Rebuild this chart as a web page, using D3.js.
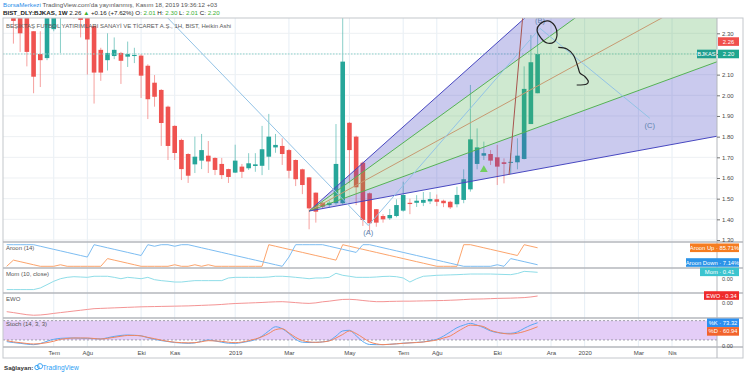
<!DOCTYPE html>
<html>
<head>
<meta charset="utf-8">
<script src="https://cdn.jsdelivr.net/npm/d3@7"></script>
<style>
  html, body { margin: 0; padding: 0; background: #fff; }
  svg { display: block; font-family: "Liberation Sans", Arial, sans-serif; }
</style>
</head>
<body>
<div id="chart"></div>
<script>
// BJKAS weekly chart with Gann fan, ABC drawing and 4 indicator panes

// ---- data ----
const startWeek = new Date(2018, 4, 14); // first weekly bar

const opens = [
  2.52, 2.44, 2.40, 2.39, 2.31, 2.20, 2.18, 2.32, 2.46, 2.52,
  2.48, 2.42, 2.38, 2.335, 2.22, 2.17, 2.19, 2.205, 2.187, 2.19,
  2.192, 2.143, 2.061, 2.026, 1.945, 1.852, 1.784, 1.716, 1.666, 1.684,
  1.708, 1.697, 1.668, 1.643, 1.626, 1.655, 1.647, 1.658, 1.659, 1.703,
  1.748, 1.755, 1.735, 1.687, 1.642, 1.603, 1.529, 1.48, 1.469, 1.478,
  1.478, 1.867, 1.80, 1.674, 1.526, 1.449, 1.416, 1.405, 1.416, 1.442,
  1.48, 1.48, 1.48, 1.487, 1.497, 1.49, 1.485, 1.473, 1.494, 1.545,
  1.668, 1.708, 1.716, 1.70, 1.676, 1.674, 1.676, 1.692, 1.861, 2.01
];
const highs = [
  2.58, 2.46, 2.42, 2.40, 2.31, 2.31, 2.50, 2.52, 2.56, 2.62,
  2.52, 2.44, 2.40, 2.34, 2.23, 2.30, 2.28, 2.21, 2.26, 2.23,
  2.20, 2.15, 2.098, 2.03, 1.95, 1.855, 1.79, 1.72, 1.80, 1.813,
  1.779, 1.70, 1.697, 1.645, 1.761, 1.668, 1.72, 1.72, 1.852, 1.91,
  1.813, 1.792, 1.74, 1.69, 1.645, 1.605, 1.53, 1.483, 1.49, 1.861,
  2.45, 1.87, 1.805, 1.68, 1.53, 1.45, 1.425, 1.45, 1.497, 1.582,
  1.50, 1.517, 1.532, 1.532, 1.52, 1.495, 1.49, 1.558, 1.642, 2.05,
  1.84, 1.776, 1.735, 1.76, 1.695, 1.72, 1.792, 2.14, 2.292, 2.30
];
const lows = [
  2.40, 2.25, 2.21, 2.14, 2.01, 2.04, 2.17, 2.31, 2.205, 2.42,
  2.37, 2.28, 2.10, 1.96, 2.07, 2.12, 2.175, 2.055, 2.137, 2.156,
  1.987, 1.885, 1.945, 1.755, 1.687, 1.687, 1.59, 1.576, 1.624, 1.643,
  1.624, 1.614, 1.595, 1.576, 1.624, 1.60, 1.639, 1.63, 1.614, 1.639,
  1.722, 1.663, 1.598, 1.561, 1.522, 1.352, 1.384, 1.452, 1.456, 1.47,
  1.47, 1.574, 1.469, 1.368, 1.34, 1.364, 1.384, 1.397, 1.41, 1.437,
  1.425, 1.46, 1.464, 1.474, 1.464, 1.459, 1.45, 1.458, 1.478, 1.534,
  1.642, 1.687, 1.663, 1.566, 1.574, 1.62, 1.642, 1.69, 1.861, 2.01
];
const closes = [
  2.44, 2.36, 2.30, 2.21, 2.09, 2.17, 2.42, 2.46, 2.52, 2.48,
  2.42, 2.365, 2.27, 2.11, 2.11, 2.205, 2.22, 2.167, 2.20, 2.195,
  2.095, 1.981, 1.993, 1.866, 1.755, 1.721, 1.643, 1.611, 1.703, 1.735,
  1.68, 1.639, 1.614, 1.605, 1.684, 1.63, 1.671, 1.666, 1.739, 1.80,
  1.76, 1.716, 1.635, 1.594, 1.566, 1.453, 1.437, 1.461, 1.48, 1.668,
  2.163, 1.735, 1.555, 1.397, 1.381, 1.384, 1.40, 1.421, 1.469, 1.518,
  1.474, 1.49, 1.494, 1.498, 1.485, 1.478, 1.458, 1.518, 1.594, 1.787,
  1.748, 1.72, 1.684, 1.655, 1.668, 1.678, 1.708, 2.031, 2.16, 2.20
];

const aroonUp = [
  0, 28.57, 21.43, 14.29, 7.14, 0, 0, 0, 7.14, 0,
  0, 0, 0, 0, 0, 35.71, 28.57, 21.43, 14.29, 7.14,
  0, 0, 0, 0, 0, 7.14, 0, 0, 7.14, 0,
  7.14, 0, 0, 0, 0, 0, 0, 0, 0, 100,
  92.86, 85.71, 78.57, 71.43, 64.29, 57.14, 50, 42.86, 35.71, 28.57,
  100, 92.86, 85.71, 78.57, 71.43, 64.29, 57.14, 50, 42.86, 35.71,
  28.57, 21.43, 14.29, 7.14, 0, 0, 0, 0, 100, 100,
  92.86, 85.71, 78.57, 71.43, 64.29, 57.14, 50, 100, 92.86, 85.71
];
const aroonDown = [
  100, 100, 100, 100, 100, 92.86, 85.71, 78.57, 71.43, 64.29,
  57.14, 50, 42.86, 100, 92.86, 85.71, 78.57, 71.43, 64.29, 57.14,
  50, 100, 92.86, 100, 100, 92.86, 100, 100, 92.86, 85.71,
  78.57, 71.43, 64.29, 57.14, 50, 42.86, 35.71, 28.57, 21.43, 14.29,
  7.14, 0, 42.86, 100, 100, 100, 100, 100, 92.86, 85.71,
  78.57, 71.43, 64.29, 100, 100, 92.86, 85.71, 78.57, 71.43, 64.29,
  57.14, 50, 42.86, 35.71, 28.57, 21.43, 14.29, 7.14, 0, 0,
  0, 0, 0, 7.14, 0, 35.71, 28.57, 21.43, 14.29, 7.14
];
const momValues = [
  -1.21, -1.21, -1.21, -1.21, -1.21, -1.06, -0.75, -0.43, -0.19, -0.06,
  0.0, -0.03, -0.06, 0.04, 0.04, 0.04, -0.06, -0.19, -0.06, -0.12,
  -0.19, -0.06, -0.28, -0.37, -0.43, -0.5, -0.5, -0.43, -0.37, -0.37,
  -0.37, -0.37, -0.37, -0.12, -0.06, -0.06, -0.06, -0.06, -0.06, -0.03,
  0.04, 0.04, 0.0, -0.06, -0.12, -0.19, -0.12, -0.12, -0.06, 0.32,
  0.13, 0.04, -0.06, -0.06, -0.06, -0.03, 0.02, 0.04, 0.0, -0.12,
  -0.5, -0.19, 0.04, 0.08, 0.13, 0.15, 0.17, 0.19, 0.22, 0.25,
  0.25, 0.25, 0.25, 0.23, 0.21, 0.19, 0.3, 0.5, 0.46, 0.41
];
const ewoValues = [
  -0.85, -0.92, -1.0, -1.08, -1.12, -1.1, -1.05, -0.98, -0.92, -0.86,
  -0.8, -0.74, -0.68, -0.62, -0.6, -0.58, -0.56, -0.54, -0.52, -0.5,
  -0.48, -0.47, -0.46, -0.45, -0.44, -0.43, -0.42, -0.41, -0.39, -0.37,
  -0.35, -0.33, -0.3, -0.26, -0.23, -0.21, -0.19, -0.17, -0.15, -0.12,
  -0.1, -0.09, -0.12, -0.16, -0.2, -0.22, -0.18, -0.1, -0.05, 0.02,
  0.08, 0.09, 0.06, 0.0, -0.05, -0.09, -0.09, -0.07, -0.06, -0.05,
  -0.05, -0.04, -0.03, -0.02, -0.01, 0.0, 0.02, 0.04, 0.07, 0.1,
  0.11, 0.12, 0.14, 0.16, 0.17, 0.18, 0.2, 0.22, 0.27, 0.34
];
const stochK = [
  14.7, 12, 9.5, 7, 5.4, 9, 16, 22, 25, 26,
  26, 25.5, 25, 24, 23, 27, 31, 34, 35.4, 34.5,
  33, 27, 22, 18, 15, 12, 10.5, 9.5, 11, 16,
  20, 17, 13, 10, 9.5, 12, 15.7, 21, 32, 48,
  61, 55, 40, 22, 13, 12, 12.6, 14, 18, 32,
  48, 50, 33, 15, 6, 5.4, 5.4, 6.5, 8, 10,
  11, 12.5, 14, 18, 22, 32, 45, 58, 66, 71.6,
  66, 58, 48, 43, 40.6, 40.6, 45, 56, 66, 73.32
];
const stochD = [
  17.8, 14, 11.6, 9, 7.5, 8.5, 11.6, 16, 21.9, 24.5,
  26.1, 26.1, 26.1, 24.5, 23, 25, 28.2, 31.5, 34, 34,
  32.5, 28, 24, 19.5, 15.7, 13, 11.6, 11, 11.6, 14.5,
  17.8, 17, 15.7, 13, 11.6, 13.5, 17.8, 23, 30, 40,
  52, 55, 42, 28, 18, 14, 12.6, 14, 17, 26,
  37, 48, 40, 27, 14, 8, 5.4, 6.5, 8, 9.5,
  11, 12, 13.7, 16.5, 20, 26, 32.3, 45, 57, 66,
  65, 61.3, 50, 44, 40, 38.5, 41, 46, 53, 60.94
];

const timeTicks = ["2018-07-02", "2018-08-06", "2018-10-01", "2018-11-05", "2019-01-07", "2019-03-04",
  "2019-05-06", "2019-07-01", "2019-08-05", "2019-10-07", "2019-12-02", "2020-01-06", "2020-03-02", "2020-04-06"];
const timeLabels = ["Tem", "Ağu", "Eki", "Kas", "2019", "Mar", "May", "Tem", "Ağu", "Eki", "Ara", "2020", "Mar", "Nis"];
const priceTicks = [1.3, 1.4, 1.5, 1.6, 1.7, 1.8, 1.9, 2.0, 2.1, 2.2, 2.3];

// drawings: [bar index (weeks from startWeek), price]
const fanAnchor = [45, 1.44];
const fanRefIndex = 75;
const fanLevels = [2.313, 2.148, 1.974, 1.797, 1.619];
const abcPoints = [[21, 2.474], [53.8, 1.37], [79.36, 2.324], [95.7, 1.889]];
const abcLabels = ["(A)", "(B)", "(C)"];
const steepLine = [[74.75, 1.615], [77.0, 2.461]];
const markerPoint = [71, 1.64];
const sketchLoop = [[79.36, 2.345], [80.55, 2.36], [81.59, 2.335], [81.89, 2.292], [81.44, 2.258],
  [80.4, 2.253], [79.51, 2.277], [78.92, 2.316]];
const sketchArrow = [[82.08, 2.232], [83.37, 2.224], [84.32, 2.195], [85.06, 2.131], [85.31, 2.107],
  [86.06, 2.09], [86.55, 2.066], [86.31, 2.055], [84.82, 2.05]];

const lastPrice = 2.20, markPrice = 2.26;

// ---- layout ----
const W = 745, H = 375;
const left = 3, right = 717, frameRight = 743;
const panes = {
  main: [18, 242], aroon: [242, 268], mom: [268, 293], ewo: [293, 318], stoch: [318, 347]
};
const axisBottomY = 358;

const parse = d3.timeParse("%Y-%m-%d");
const weeks = opens.map((_, i) => d3.timeWeek.offset(startWeek, i));
const dateAt = idx => new Date(startWeek.getTime() + idx * 7 * 864e5);

const x = d3.scaleTime().domain([startWeek, parse("2020-04-06")]).range([6.7, 672]);
const y = d3.scaleLinear().domain([1.30, 2.30]).range([240, 33.3]);
const yAroon = d3.scaleLinear().domain([0, 100]).range([266.3, 244.7]);
const yMom = d3.scaleLinear().domain([-1.53, 0.75]).range([293, 268.7]);
const yEwo = d3.scaleLinear().domain([-1.33, 0.57]).range([318, 293]);
const yStoch = d3.scaleLinear().domain([0, 100]).range([346.4, 314.2]);

const px = p => x(dateAt(p[0]));

const svg = d3.select("#chart").append("svg").attr("width", W).attr("height", H);
const defs = svg.append("defs");
Object.entries(panes).forEach(([k, [t, b]]) => {
  defs.append("clipPath").attr("id", "clip-" + k)
    .append("rect").attr("x", left).attr("y", t).attr("width", right - left).attr("height", b - t);
});

// ---- grid ----
const grid = svg.append("g");
grid.selectAll(".vgrid").data(timeTicks).enter().append("line")
  .attr("x1", d => x(parse(d))).attr("x2", d => x(parse(d)))
  .attr("y1", panes.main[0]).attr("y2", panes.stoch[1])
  .attr("stroke", "#e6eef5").attr("stroke-width", 1);
grid.selectAll(".hgrid").data(priceTicks).enter().append("line")
  .attr("x1", left).attr("x2", right)
  .attr("y1", d => y(d)).attr("y2", d => y(d))
  .attr("stroke", "#edf0f3").attr("stroke-width", 1);

// ---- main pane ----
const main = svg.append("g").attr("clip-path", "url(#clip-main)");
const up = "#26a69a", down = "#ef5350";
const candles = main.selectAll(".candle").data(weeks).enter().append("g");
candles.append("line")
  .attr("x1", d => x(d)).attr("x2", d => x(d))
  .attr("y1", (d, i) => y(highs[i])).attr("y2", (d, i) => y(lows[i]))
  .attr("stroke", (d, i) => closes[i] >= opens[i] ? up : down)
  .attr("stroke-opacity", 0.55).attr("stroke-width", 1);
candles.append("rect")
  .attr("x", d => x(d) - 2.3).attr("width", 4.6)
  .attr("y", (d, i) => y(Math.max(opens[i], closes[i])))
  .attr("height", (d, i) => Math.max(1, Math.abs(y(opens[i]) - y(closes[i]))))
  .attr("fill", (d, i) => closes[i] >= opens[i] ? up : down);

// last price line
main.append("line")
  .attr("x1", left).attr("x2", right).attr("y1", y(lastPrice)).attr("y2", y(lastPrice))
  .attr("stroke", "#8fd3cc").attr("stroke-width", 1).attr("stroke-dasharray", "1.5,1.5");

// gann fan
const fanPrice = (lvl, t) => fanAnchor[1] + (lvl - fanAnchor[1]) * (t - fanAnchor[0]) / (fanRefIndex - fanAnchor[0]);
const fanEnd = 115;
const fanFills = [[0, 1, "rgba(80,80,200,0.30)"], [1, 3, "rgba(76,175,80,0.27)"], [3, 4, "rgba(80,80,200,0.30)"]];
main.selectAll(".fanfill").data(fanFills).enter().append("path")
  .attr("d", ([a, b]) => {
    const pts = [fanAnchor, [fanEnd, fanPrice(fanLevels[a], fanEnd)], [fanEnd, fanPrice(fanLevels[b], fanEnd)]];
    return "M" + pts.map(p => px(p) + "," + y(p[1])).join("L") + "Z";
  })
  .attr("fill", d => d[2]);
const fanColors = ["#4848c0", "#55b255", "#c79a72", "#55b255", "#4848c0"];
main.selectAll(".fanline").data(fanLevels).enter().append("line")
  .attr("x1", px(fanAnchor)).attr("y1", y(fanAnchor[1]))
  .attr("x2", x(dateAt(fanEnd))).attr("y2", d => y(fanPrice(d, fanEnd)))
  .attr("stroke", (d, i) => fanColors[i]).attr("stroke-width", 1);

// ABC pattern
main.append("path")
  .attr("d", d3.line().x(px).y(p => y(p[1]))(abcPoints))
  .attr("fill", "none").attr("stroke", "#93c3e6").attr("stroke-width", 1);
const labelOffsets = [9, -5, 10];
main.selectAll(".abc").data(abcLabels).enter().append("text")
  .attr("x", (d, i) => px(abcPoints[i + 1]))
  .attr("y", (d, i) => y(abcPoints[i + 1][1]) + labelOffsets[i])
  .attr("text-anchor", "middle").attr("font-size", 7.5).attr("fill", "#5a80ad")
  .text(d => d);

// steep trend line
main.append("line")
  .attr("x1", px(steepLine[0])).attr("y1", y(steepLine[0][1]))
  .attr("x2", px(steepLine[1])).attr("y2", y(steepLine[1][1]))
  .attr("stroke", "#a8544e").attr("stroke-width", 1);

// marker
main.append("path")
  .attr("d", d3.symbol(d3.symbolTriangle, 26)())
  .attr("transform", `translate(${px(markerPoint)},${y(markerPoint[1])})`)
  .attr("fill", "#72cf60");

// freehand sketch
main.append("path")
  .attr("d", d3.line().x(px).y(p => y(p[1])).curve(d3.curveCatmullRomClosed)(sketchLoop))
  .attr("fill", "none").attr("stroke", "#222").attr("stroke-width", 1.2);
main.append("path")
  .attr("d", d3.line().x(px).y(p => y(p[1])).curve(d3.curveCatmullRom)(sketchArrow))
  .attr("fill", "none").attr("stroke", "#222").attr("stroke-width", 1.2);

// ---- indicator panes ----
function drawLine(pane, values, yScale, color, curve) {
  svg.append("path")
    .attr("clip-path", `url(#clip-${pane})`)
    .attr("d", d3.line().x((d, i) => x(weeks[i])).y(d => yScale(d)).curve(curve || d3.curveLinear)(values))
    .attr("fill", "none").attr("stroke", color).attr("stroke-width", 1);
}
drawLine("aroon", aroonUp, yAroon, "#fca46c");
drawLine("aroon", aroonDown, yAroon, "#7dbdf2");
drawLine("mom", momValues, yMom, "#8fdde8");
drawLine("ewo", ewoValues, yEwo, "#f49494");

svg.append("rect").attr("clip-path", "url(#clip-stoch)")
  .attr("x", left).attr("width", right - left)
  .attr("y", yStoch(80)).attr("height", yStoch(20) - yStoch(80))
  .attr("fill", "#e4cdf7");
[80, 20].forEach(v => svg.append("line")
  .attr("x1", left).attr("x2", right).attr("y1", yStoch(v)).attr("y2", yStoch(v))
  .attr("stroke", "#8c8c96").attr("stroke-width", 0.8).attr("stroke-dasharray", "2,2"));
drawLine("stoch", stochK, yStoch, "#5aa8f2", d3.curveMonotoneX);
drawLine("stoch", stochD, yStoch, "#f2865e", d3.curveMonotoneX);

// ---- frame and separators ----
const frame = svg.append("g").attr("fill", "none");
frame.append("rect").attr("x", left).attr("y", panes.main[0])
  .attr("width", frameRight - left).attr("height", axisBottomY - panes.main[0])
  .attr("stroke", "#c4c7cc").attr("stroke-width", 1);
[panes.aroon[0], panes.mom[0], panes.ewo[0], panes.stoch[0], panes.stoch[1]].forEach(v =>
  frame.append("line").attr("x1", left).attr("x2", frameRight).attr("y1", v).attr("y2", v)
    .attr("stroke", "#b4b7bd").attr("stroke-width", 1.4));
frame.append("line").attr("x1", right).attr("x2", right)
  .attr("y1", panes.main[0]).attr("y2", axisBottomY)
  .attr("stroke", "#b4b7bd").attr("stroke-width", 1);

// ---- axes ----
const priceAxis = svg.append("g").attr("transform", `translate(${right},0)`)
  .call(d3.axisRight(y).tickValues(priceTicks).tickFormat(d3.format(".2f")).tickSize(3).tickPadding(2));
priceAxis.select(".domain").remove();
priceAxis.selectAll("line").attr("stroke", "#777");
priceAxis.selectAll("text").attr("font-size", 6).attr("fill", "#4a4a4a")
  .attr("font-family", "Liberation Sans, Arial, sans-serif");

const timeAxis = svg.append("g").attr("transform", `translate(0,${panes.stoch[1]})`)
  .call(d3.axisBottom(x).tickValues(timeTicks.map(parse)).tickFormat((d, i) => timeLabels[i]).tickSize(0).tickPadding(3.5));
timeAxis.select(".domain").remove();
timeAxis.selectAll("text").attr("font-size", 6).attr("fill", "#4a4a4a")
  .attr("font-family", "Liberation Sans, Arial, sans-serif");

// zero labels of sub panes (sit just under the value tags)
[[yMom(0) + 4.6, "0.00"], [yEwo(0) + 4.8, "0.00"], [yStoch(0) + 2, "0.00"]].forEach(([yy, t]) =>
  svg.append("text").attr("x", right + 5).attr("y", yy).attr("font-size", 5.6).attr("fill", "#4a4a4a").text(t));

// ---- right-side value tags ----
function tag(x1, x2, yc, fill, text) {
  svg.append("rect").attr("x", x1).attr("y", yc - 4.3).attr("width", x2 - x1).attr("height", 8.6).attr("fill", fill);
  svg.append("text").attr("x", (x1 + x2) / 2).attr("y", yc + 2.1).attr("text-anchor", "middle")
    .attr("font-size", 5.8).attr("fill", "#fff").text(text);
}
tag(718, 739, y(markPrice), "#f0504c", markPrice.toFixed(2));
tag(697, 716, y(lastPrice), "#1f9e8f", "BJKAS");
tag(718, 739, y(lastPrice), "#1fa68f", lastPrice.toFixed(2));
tag(690, 739, yAroon(aroonUp[aroonUp.length - 1]), "#f57c21", "Aroon Up · " + aroonUp[aroonUp.length - 1].toFixed(2) + "%");
tag(686, 739, Math.min(yAroon(aroonDown[aroonDown.length - 1]), panes.aroon[1] - 5.5), "#2b93e8", "Aroon Down · " + aroonDown[aroonDown.length - 1].toFixed(2) + "%");
tag(700, 739, yMom(momValues[momValues.length - 1]) - 0.5, "#3cc4cf", "Mom · " + momValues[momValues.length - 1].toFixed(2));
tag(704, 739, yEwo(ewoValues[ewoValues.length - 1]) - 0.5, "#ee2b2b", "EWO · " + ewoValues[ewoValues.length - 1].toFixed(2));
tag(707, 739, yStoch(stochK[stochK.length - 1]), "#2b8ff0", "%K · " + stochK[stochK.length - 1].toFixed(2));
tag(707, 739, yStoch(stochK[stochK.length - 1]) + 8.6, "#f2642c", "%D · " + stochD[stochD.length - 1].toFixed(2));

// ---- titles and header ----
const paneTitles = [["Aroon (14)", panes.aroon[0]], ["Mom (10, close)", panes.mom[0]], ["EWO", panes.ewo[0]], ["Stoch (14, 3, 3)", panes.stoch[0]]];
paneTitles.forEach(([t, top]) => svg.append("text").attr("x", 6).attr("y", top + 7.5)
  .attr("font-size", 6).attr("fill", "#555").text(t));

svg.append("text").attr("x", 6).attr("y", 27.5).attr("font-size", 6).attr("fill", "#5a5a5a")
  .text("BEŞİKTAŞ FUTBOL YATIRIMLARI SANAYİ VE TİCARET A.Ş., 1H, BIST, Heikin Ashi");

const h1 = svg.append("text").attr("x", 3).attr("y", 7).attr("font-size", 6.2);
h1.append("tspan").attr("fill", "#2a8ee8").text("BorsaMerkezi");
h1.append("tspan").attr("fill", "#555").text(" TradingView.com'da yayınlanmış, Kasım 18, 2019 19:36:12 +03");

const h2 = svg.append("text").attr("x", 3).attr("y", 15).attr("font-size", 6.2).attr("fill", "#222");
h2.append("tspan").attr("font-weight", "bold").text("BIST_DLY:BJKAS, 1W");
h2.append("tspan").text(" " + markPrice.toFixed(2) + " ");
h2.append("tspan").attr("fill", "#3cb034").text("▲");
h2.append("tspan").text(" +0.16 (+7.62%) O: ");
h2.append("tspan").attr("fill", "#3cb034").text(opens[opens.length - 1].toFixed(2));
h2.append("tspan").text(" H: ");
h2.append("tspan").attr("fill", "#3cb034").text(highs[highs.length - 1].toFixed(2));
h2.append("tspan").text(" L: ");
h2.append("tspan").attr("fill", "#3cb034").text(lows[lows.length - 1].toFixed(2));
h2.append("tspan").text(" C: ");
h2.append("tspan").attr("fill", "#3cb034").text(closes[closes.length - 1].toFixed(2));

// footer
svg.append("text").attr("x", 4).attr("y", 369.5).attr("font-size", 6.2).attr("font-weight", "bold")
  .attr("fill", "#333").text("Sağlayan:");
const logo = svg.append("g").attr("transform", "translate(37,367)").attr("fill", "none").attr("stroke", "#2a9df4").attr("stroke-width", 0.9);
logo.append("circle").attr("cx", 0).attr("cy", 0.5).attr("r", 2.2);
logo.append("circle").attr("cx", 3).attr("cy", -0.8).attr("r", 2.6);
svg.append("text").attr("x", 42.5).attr("y", 369.5).attr("font-size", 6.6).attr("fill", "#2a9df4").text("TradingView");
</script>
</body>
</html>
